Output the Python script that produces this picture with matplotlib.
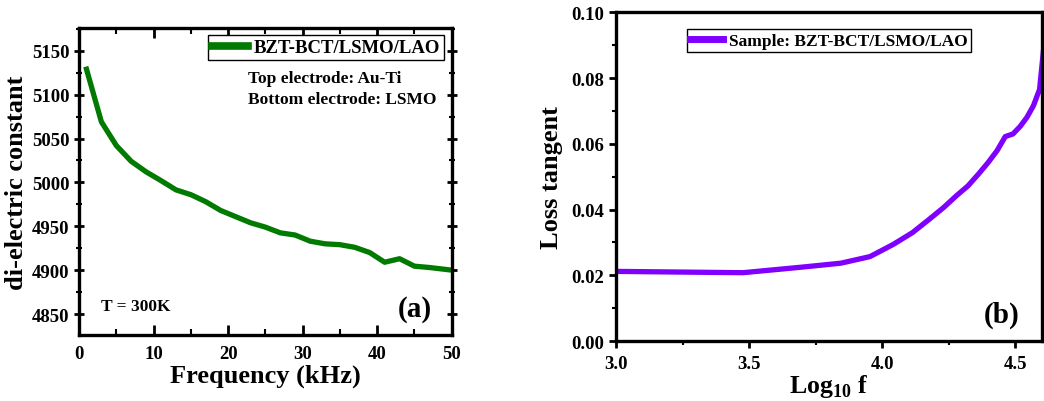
import numpy as np
import matplotlib
matplotlib.use('Agg')
import matplotlib.pyplot as plt
from matplotlib.ticker import MultipleLocator, FormatStrFormatter

plt.rcParams['font.family'] = 'Liberation Serif'
plt.rcParams['font.weight'] = 'bold'
plt.rcParams['mathtext.fontset'] = 'custom'
plt.rcParams['mathtext.rm'] = 'Liberation Serif:bold'
plt.rcParams['mathtext.bf'] = 'Liberation Serif:bold'

# measurement frequencies (kHz)
freq_khz = [1, 3, 5, 7, 9, 11, 13, 15, 17, 19, 21, 23, 25, 27, 29,
            31, 33, 35, 37, 39, 41, 43, 45, 47, 49, 50]
dielectric = [5129, 5069, 5042, 5024, 5012, 5002, 4991.5, 4986, 4978, 4968,
              4961, 4954, 4949, 4942.5, 4940, 4933, 4930, 4929, 4926, 4920,
              4909, 4913, 4904.5, 4903, 4901, 4900]

# loss tangent, first 21 frequencies
loss_freq_khz = freq_khz[:21]
loss_tan = [0.0212, 0.0208, 0.0225, 0.0237, 0.0257, 0.0294, 0.0330, 0.0370,
            0.0406, 0.0442, 0.0472, 0.0508, 0.0543, 0.0579, 0.0622, 0.0630,
            0.0653, 0.0681, 0.0716, 0.0765, 0.0940]

GREEN = '#007a00'
PURPLE = '#7f00ff'

fig = plt.figure(figsize=(10.44, 4.02), dpi=100)
ax1 = fig.add_axes([0.0757, 0.164, 0.357, 0.764])
ax2 = fig.add_axes([0.590, 0.149, 0.408, 0.818])

# (a) dielectric constant vs frequency
ax1.plot(freq_khz, dielectric, color=GREEN, lw=3.8, label='BZT-BCT/LSMO/LAO')
ax1.set_xlim(0, 50)
ax1.set_ylim(4826, 5176)
ax1.xaxis.set_major_locator(MultipleLocator(10))
ax1.xaxis.set_minor_locator(MultipleLocator(5))
ax1.yaxis.set_major_locator(MultipleLocator(50))
ax1.yaxis.set_minor_locator(MultipleLocator(25))
ax1.tick_params(axis='x', which='both', direction='in', top=True, labelsize=13.5, pad=7)
ax1.tick_params(axis='y', which='both', direction='inout', right=True, labelsize=13.5)
ax1.tick_params(which='major', length=7, width=2)
ax1.tick_params(which='minor', length=4, width=1.5)
ax1.set_xlabel('Frequency (kHz)', fontsize=19, fontweight='bold', labelpad=1)
ax1.set_ylabel('di-electric constant', fontsize=19, fontweight='bold', labelpad=3)
leg1 = ax1.legend(loc='upper right', fontsize=13.5, handlelength=1.9, handletextpad=0.35,
                  borderaxespad=0.4, borderpad=0.2, fancybox=False, edgecolor='black',
                  framealpha=1)
leg1.get_lines()[0].set_linewidth(5.5)
ax1.text(0.453, 0.837, 'Top electrode: Au-Ti', transform=ax1.transAxes, fontsize=12.5,
         va='center')
ax1.text(0.453, 0.769, 'Bottom electrode: LSMO', transform=ax1.transAxes, fontsize=12.5,
         va='center')
ax1.text(0.058, 0.094, 'T = 300K', transform=ax1.transAxes, fontsize=12.5, va='center')
ax1.text(0.946, 0.085, '(a)', transform=ax1.transAxes, fontsize=21, ha='right', va='center')

# (b) loss tangent vs log frequency
log_f = np.log10(np.array(loss_freq_khz) * 1000)
ax2.plot(log_f, loss_tan, color=PURPLE, lw=3.8, label='Sample: BZT-BCT/LSMO/LAO')
ax2.set_xlim(3.0, 4.6)
ax2.set_ylim(0.0, 0.10)
ax2.xaxis.set_major_locator(MultipleLocator(0.5))
ax2.xaxis.set_minor_locator(MultipleLocator(0.25))
ax2.yaxis.set_major_locator(MultipleLocator(0.02))
ax2.yaxis.set_minor_locator(MultipleLocator(0.01))
ax2.yaxis.set_major_formatter(FormatStrFormatter('%.2f'))
ax2.xaxis.set_major_formatter(FormatStrFormatter('%.1f'))
ax2.tick_params(axis='x', which='both', direction='out', labelsize=13.5, pad=5)
ax2.tick_params(axis='y', which='both', direction='out', labelsize=13.5)
ax2.tick_params(axis='y', which='both', right=True)
ax2.tick_params(which='major', length=5, width=2)
ax2.tick_params(which='minor', length=3, width=1.5)
ax2.set_xlabel(r'Log$_{10}$ f', fontsize=18.5, fontweight='bold', labelpad=0)
ax2.set_ylabel('Loss tangent', fontsize=19, fontweight='bold', labelpad=6)
leg2 = ax2.legend(loc='upper center', bbox_to_anchor=(0.5, 0.975), fontsize=12.5,
                  handlelength=1.9, handletextpad=0.35, borderpad=0.2, fancybox=False,
                  edgecolor='black', framealpha=1)
leg2.get_lines()[0].set_linewidth(5)
ax2.text(0.948, 0.082, '(b)', transform=ax2.transAxes, fontsize=21, ha='right', va='center')

for ax in (ax1, ax2):
    for sp in ax.spines.values():
        sp.set_linewidth(2.4)
    for lbl in ax.get_xticklabels() + ax.get_yticklabels():
        lbl.set_fontweight('bold')

fig.savefig('out.png', dpi=100)
